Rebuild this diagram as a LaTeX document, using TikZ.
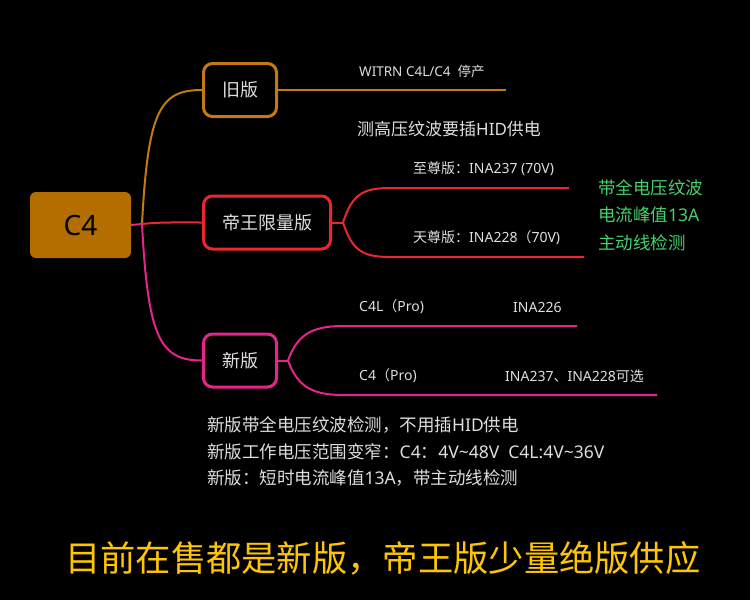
\documentclass[tikz,border=0pt]{standalone}
\usepackage{fontspec}
\setmainfont{Noto Sans CJK SC}
\newfontfamily\latfont{Noto Sans}
\newcommand\latn[1]{{\latfont #1}}
\definecolor{bgc}{HTML}{000000}
\definecolor{c4fill}{HTML}{B46E00}
\definecolor{oldc}{HTML}{C27A12}
\definecolor{redc}{HTML}{E8282E}
\definecolor{pinkc}{HTML}{E6248A}
\definecolor{txtc}{HTML}{DEDEDE}
\definecolor{greenc}{HTML}{45D16B}
\definecolor{yellowc}{HTML}{FFC600}
\tikzset{
  branchbox/.style={draw, line width=3pt, rounded corners=9pt, text=txtc, font=\fontsize{18}{20}\selectfont, inner sep=0pt},
  lbl/.style={anchor=west, inner sep=0pt, text=txtc},
  small/.style={lbl, font=\fontsize{14}{16}\selectfont},
  note/.style={lbl, font=\fontsize{17.5}{20}\selectfont},
  greenlbl/.style={lbl, text=greenc, font=\fontsize{17.5}{20}\selectfont},
  conn/.style={line width=2pt},
}
\begin{document}
\begin{tikzpicture}[x=1pt,y=-1pt]
\fill[bgc] (0,0) rectangle (750,600);
\useasboundingbox (0,0) rectangle (750,600);

% root
\node[fill=c4fill, rounded corners=6pt, minimum width=101pt, minimum height=66pt, inner sep=0pt,
      font=\fontsize{28}{32}\selectfont, text=black] (c4) at (80.5,225) {\latn{C4}};
\coordinate (hub) at (142,224);

% branch boxes
\node[branchbox, draw=oldc, minimum width=73pt, minimum height=53pt] (old) at (240,90) {旧版};
\node[branchbox, draw=redc, minimum width=127pt, minimum height=53pt] (emp) at (267,222.5) {帝王限量版};
\node[branchbox, draw=pinkc, minimum width=73pt, minimum height=53pt] (new) at (240,360.5) {新版};

% root connectors
\draw[conn, oldc] (hub) .. controls (148,110) and (160,90) .. (old.west);
\draw[conn, redc] (hub) .. controls (160,222) and (180,222.5) .. (emp.west);
\draw[conn, pinkc] (hub) .. controls (148,338) and (160,360.5) .. (new.west);
\draw[conn, pinkc] (c4.east) -- (hub);

% old branch
\coordinate (oldend) at (506,90);
\draw[conn, oldc] (old.east) -- (oldend);
\node[lbl, font=\fontsize{13.5}{15}\selectfont] (witrn) at (359,71) {\latn{WITRN C4L/C4\ \ }停产};
\node[lbl, font=\fontsize{17}{19}\selectfont] (hid) at (357,129) {测高压纹波要插\latn{HID}供电};

% emperor branch
\coordinate (ef) at (343,222.5);
\coordinate (eu) at (390,188);
\coordinate (eue) at (569,188);
\coordinate (el) at (390,257);
\coordinate (ele) at (584,257);
\draw[conn, redc] (emp.east) -- (ef);
\draw[conn, redc] (ef) .. controls (352,195) and (362,188) .. (eu) -- (eue);
\draw[conn, redc] (ef) .. controls (352,250) and (362,257) .. (el) -- (ele);
\node[small] (zz) at (413,169) {至尊版：\latn{INA237 (70V)}};
\node[small] (tz) at (413,238) {天尊版：\latn{INA228}（\latn{70V)}};
\node[greenlbl] (g1) at (598,188) {带全电压纹波};
\node[greenlbl] (g2) at (598,215) {电流峰值\latn{13A}};
\node[greenlbl] (g3) at (598,243) {主动线检测};

% new branch
\coordinate (nf) at (288,360.5);
\coordinate (nu) at (343,326);
\coordinate (nue) at (577,326);
\coordinate (nl) at (343,395);
\coordinate (nle) at (657,395);
\draw[conn, pinkc] (new.east) -- (nf);
\draw[conn, pinkc] (nf) .. controls (297,336) and (310,326) .. (nu) -- (nue);
\draw[conn, pinkc] (nf) .. controls (297,385) and (310,395) .. (nl) -- (nle);
\node[small] (c4l) at (359,307) {\latn{C4L}（\latn{Pro)}};
\node[small] (ina226) at (513,307) {\latn{INA226}};
\node[small] (c4p) at (359,376) {\latn{C4}（\latn{Pro)}};
\node[small] (inaopt) at (505,376) {\latn{INA237}、\latn{INA228}可选};

% notes
\node[note] (n1) at (207,425) {新版带全电压纹波检测，不用插\latn{HID}供电};
\node[note] (n2) at (207,452) {新版工作电压范围变窄：\latn{C4}：\latn{4V\textasciitilde48V\ \ C4L:4V\textasciitilde36V}};
\node[note] (n3) at (207,478) {新版：短时电流峰值\latn{13A}，带主动线检测};

\node[lbl, text=yellowc, font=\fontsize{35.3}{40}\selectfont] (bottom) at (65,558) {目前在售都是新版，帝王版少量绝版供应};
\end{tikzpicture}
\end{document}
